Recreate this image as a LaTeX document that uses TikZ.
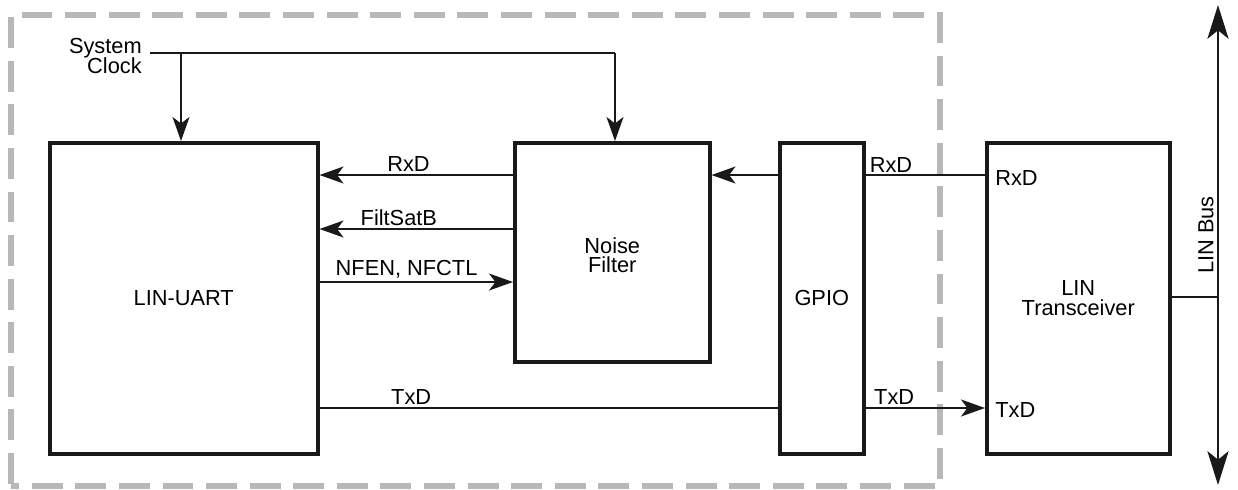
\documentclass[tikz,border=0pt]{standalone}
\usepackage{fontspec}
\setmainfont{Liberation Sans}
\usetikzlibrary{arrows.meta}
\begin{document}
\begin{tikzpicture}[x=0.025cm,y=-0.025cm,
  font=\fontsize{15.5}{18}\selectfont,
  blk/.style={draw=black!90,line width=2.5pt,inner sep=0pt,anchor=north west},
  conn/.style={line width=1.7pt,draw=black!90},
  arr/.style={conn,-{Stealth[length=17pt,width=12pt,inset=4.5pt]}},
  lbl/.style={inner sep=1.5pt,anchor=south}]
\useasboundingbox (0,0) rectangle (1238,489);
% dashed chip boundary
\draw[draw=black!28,line width=3.6pt,dash pattern=on 22pt off 9pt] (11,484) -- (11,15) -- (940,15) -- (940,486) -- (11,486);
% blocks
\node[blk,minimum width=268*0.025cm,minimum height=311*0.025cm] (uart) at (48,141) {};
\node at (uart.center) {LIN-UART};
\node[blk,minimum width=195*0.025cm,minimum height=219*0.025cm] (nf) at (513,141) {};
\node[align=center] at ([yshift=-2pt]nf.center) {Noise\\[-4pt]Filter};
\node[blk,minimum width=84*0.025cm,minimum height=311*0.025cm] (gpio) at (778,141) {};
\node at (gpio.center) {GPIO};
\node[blk,minimum width=183*0.025cm,minimum height=311*0.025cm] (tr) at (985,141) {};
\node[align=center] at (tr.center) {LIN\\[-4pt]Transceiver};
% system clock
\node[align=right,anchor=east,inner sep=0pt] (clk) at (142,56) {System\\[-4pt]Clock};
\coordinate (c0) at (150,53);
\coordinate (c1) at (615,53);
\draw[conn] (c0) -- (c1);
\draw[arr] (181,53) -- (uart.north -| 181,0);
\draw[arr] (c1) -- (nf.north -| c1);
% noise filter <-> uart
\draw[arr] (nf.west |- 0,175) -- node[lbl,pos=0.54]{RxD} (uart.east |- 0,175);
\draw[arr] (nf.west |- 0,229) -- node[lbl,pos=0.59]{FiltSatB} (uart.east |- 0,229);
\draw[arr] (uart.east |- 0,282) -- node[lbl,pos=0.45]{NFEN, NFCTL} (nf.west |- 0,282);
% gpio -> noise filter
\draw[arr] (gpio.west |- 0,175) -- (nf.east |- 0,175);
% transceiver -> gpio
\draw[conn] (tr.west |- 0,175) -- (gpio.east |- 0,175);
\node[lbl] at (891,175) {RxD};
\node[anchor=west,inner sep=0pt] (trx) at (995,178) {RxD};
% TxD
\draw[conn] (uart.east |- 0,408) -- node[lbl,pos=0.2]{TxD} (gpio.west |- 0,408);
\draw[arr] (gpio.east |- 0,408) -- node[lbl,pos=0.24]{TxD} (tr.west |- 0,408);
\node[anchor=west,inner sep=0pt] (ttx) at (995,410) {TxD};
% LIN bus
\coordinate (bt) at (1218,5);
\coordinate (bb) at (1218,485);
\draw[conn,{Stealth[length=24pt,width=15pt,inset=6pt]}-{Stealth[length=24pt,width=15pt,inset=6pt]}] (bt) -- (bb);
\draw[conn] (tr.east |- 0,297) -- (1218,297);
\node[rotate=90,anchor=south,inner sep=3pt] (lb) at (1218,235) {LIN Bus};
\end{tikzpicture}
\end{document}
